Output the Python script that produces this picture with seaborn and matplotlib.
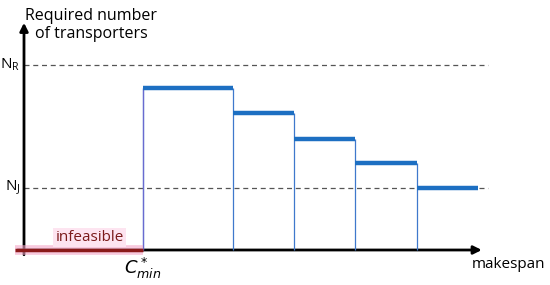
import numpy as np
import pandas as pd
import seaborn as sns
import matplotlib.pyplot as plt

# step boundaries along makespan (first one is C*_min)
edges = [1.95, 3.43, 4.43, 5.43, 6.44, 7.44]
# required number of transporters for each step
levels = [6.5, 5.5, 4.45, 3.5, 2.5]
n_r = 7.4
n_j = 2.5
c_min = edges[0]

sns.set_theme(style='white')
plt.rcParams['font.family'] = ['Open Sans', 'DejaVu Sans']
plt.rcParams['text.color'] = 'black'

fig = plt.figure(figsize=(5.5, 2.85), dpi=100)
ax = fig.add_axes([0, 0, 1, 1])
ax.set_xlim(-24 / 61, 526 / 61)
ax.set_ylim(-35 / 25, 250 / 25)
ax.axis('off')

# reference levels
ax.hlines([n_r, n_j], 0, 7.6, colors='#555555', linestyles=(0, (4, 3)), lw=0.9, zorder=1)

# step tops
seg = pd.DataFrame({
    'x': np.ravel(list(zip(edges[:-1], edges[1:]))),
    'y': np.repeat(levels, 2),
    'seg': np.repeat(range(len(levels)), 2),
})
sns.lineplot(data=seg, x='x', y='y', units='seg', estimator=None,
             color='#1d6fc2', lw=3.2, ax=ax, legend=False, zorder=4)
for l in ax.lines:
    l.set_solid_capstyle('butt')

# vertical sides
for i, lv in enumerate(levels):
    top = lv if i == 0 else max(lv, levels[i - 1])
    ax.vlines(edges[i], 0, top, colors='#3f78cc', lw=0.9, zorder=3)

# axes with arrows
ax.annotate('', xy=(7.55, 0), xytext=(-0.15, 0),
            arrowprops=dict(arrowstyle='-|>', color='black', lw=2, mutation_scale=12), zorder=2)
ax.annotate('', xy=(0, 9.2), xytext=(0, -0.3),
            arrowprops=dict(arrowstyle='-|>', color='black', lw=2, mutation_scale=12), zorder=2)

# infeasible region
ax.plot([-0.15, c_min], [0, 0], color='#f4a6c8', lw=7, alpha=0.6, solid_capstyle='butt', zorder=4)
ax.plot([-0.15, c_min], [0, 0], color='#8b1a1a', lw=2.5, solid_capstyle='butt', zorder=5)
ax.text(1.08, 0.5, 'infeasible', ha='center', va='center', fontsize=11, color='#7a1a1a',
        bbox=dict(boxstyle='square,pad=0.15', fc='#fde4f0', ec='none'), zorder=5)
ax.vlines(c_min, 0, levels[0], colors='#6a6ad0', lw=0.9, zorder=3)

# labels
ax.text(c_min, -0.75, r'$C^*_{min}$', ha='center', va='center', fontsize=13)
ax.text(8.54, -0.6, 'makespan', ha='right', va='center', fontsize=11)
ax.text(1.1, 9.0, 'Required number\nof transporters', ha='center', va='center',
        fontsize=11.5, linespacing=1.1)
ax.text(-0.06, n_r, r'$\mathregular{N_R}$', ha='right', va='center', fontsize=11)
ax.text(-0.06, n_j, r'$\mathregular{N_J}$', ha='right', va='center', fontsize=11)

fig.savefig('out.png', dpi=100)
